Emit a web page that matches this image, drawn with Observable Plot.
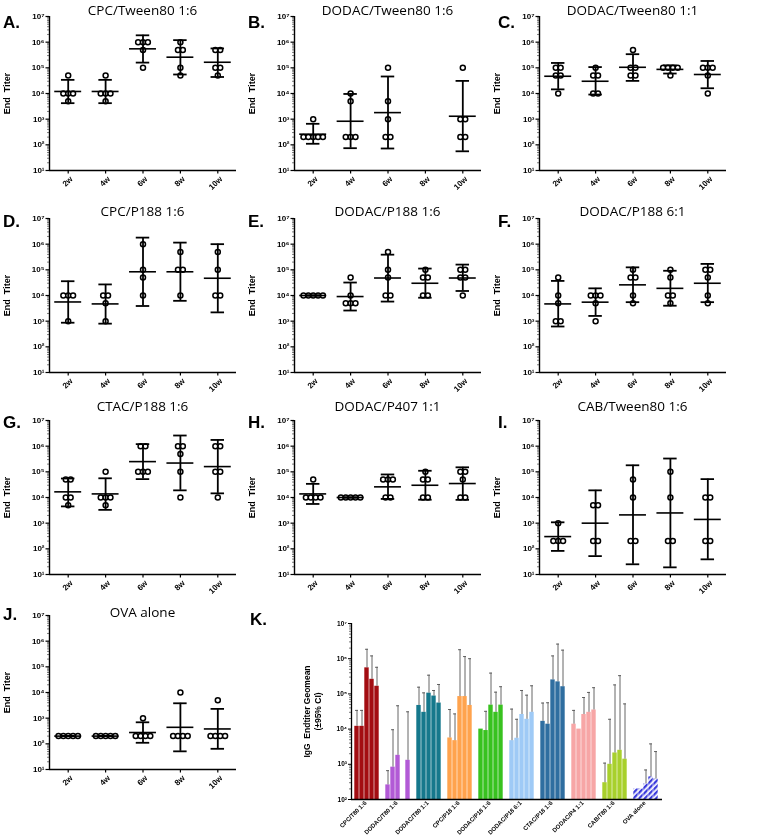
<!DOCTYPE html>
<html><head><meta charset="utf-8">
<script src="https://cdn.jsdelivr.net/npm/d3@7"></script>
<script src="https://cdn.jsdelivr.net/npm/@observablehq/plot@0.6"></script>
<style>
body{margin:0;background:#fff;}
#root{position:relative;width:760px;height:840px;overflow:hidden;background:#fff;}
#root > svg{position:absolute;will-change:transform;}
</style></head><body>
<svg width="0" height="0" style="position:absolute"><defs>
<pattern id="hatch" patternUnits="userSpaceOnUse" width="4" height="4" patternTransform="rotate(45)">
<rect width="4" height="4" fill="#ffffff"/><rect width="2.3" height="4" fill="#3b3bdc"/></pattern></defs></svg>
<div id="root"></div>
<script>
// ---------- data ----------
const WEEKS = ["2w", "4w", "6w", "8w", "10w"];
const TITLES = ["CPC/Tween80 1:6", "DODAC/Tween80 1:6", "DODAC/Tween80 1:1", "CPC/P188 1:6", "DODAC/P188 1:6",
  "DODAC/P188 6:1", "CTAC/P188 1:6", "DODAC/P407 1:1", "CAB/Tween80 1:6", "OVA alone"];
const LETTERS = ["A.", "B.", "C.", "D.", "E.", "F.", "G.", "H.", "I.", "J."];

const ptsA = [[5e4,1e4,1e4,1e4,5e3],[5e4,1e4,1e4,1e4,5e3],[1e6,1e6,1e6,5e5,1e5],[1e6,5e5,5e5,1e5,5e4],[5e5,5e5,1e5,1e5,5e4]];
const gmA = [1.2e4, 1.2e4, 5.5e5, 2.6e5, 1.65e5];
const loA = [4.2e3, 4.2e3, 1.6e5, 5.5e4, 4.4e4];
const hiA = [3.4e4, 3.4e4, 1.85e6, 1.2e6, 5.7e5];

const ptsB = [[1e3,2e2,2e2,2e2,2e2,2e2],[1e4,5e3,2e2,2e2,2e2],[1e5,5e3,1e3,2e2,2e2],null,[1e5,1e3,1e3,2e2,2e2]];
const gmB = [2.6e2, 8.3e2, 1.8e3, null, 1.3e3];
const loB = [1.1e2, 74, 72, null, 56];
const hiB = [6.6e2, 9.6e3, 4.6e4, null, 3.1e4];

const ptsC = [[1e5,1e5,5e4,5e4,1e4],[1e5,5e4,5e4,1e4,1e4],[5e5,1e5,1e5,5e4,5e4],[1e5,1e5,1e5,1e5,5e4],[1e5,1e5,1e5,5e4,1e4]];
const gmC = [4.7e4, 3.0e4, 1.05e5, 8.7e4, 5.5e4];
const loC = [1.45e4, 9.1e3, 3.1e4, 6.0e4, 1.6e4];
const hiC = [1.55e5, 1.07e5, 3.4e5, 1.25e5, 1.85e5];

const ptsD = [[1e4,1e4,1e4,1e3],[1e4,1e4,5e3,1e3],[1e6,1e5,5e4,1e4],[5e5,1e5,1e5,1e4],[5e5,1e5,1e4,1e4]];
const gmD = [5.6e3, 4.7e3, 8.4e4, 8.4e4, 4.7e4];
const loD = [8.7e2, 8.0e2, 3.9e3, 6.2e3, 2.2e3];
const hiD = [3.6e4, 2.7e4, 1.8e6, 1.15e6, 1.0e6];

const ptsE = [[1e4,1e4,1e4,1e4,1e4],[5e4,1e4,5e3,5e3,5e3],[5e5,1e5,5e4,1e4,1e4],[1e5,5e4,5e4,1e4,1e4],[1e5,1e5,5e4,5e4,1e4]];
const gmE = [1e4, 9.1e3, 4.8e4, 3.0e4, 4.8e4];
const loE = [1e4, 2.6e3, 5.8e3, 8.2e3, 1.5e4];
const hiE = [1e4, 3.2e4, 3.9e5, 1.12e5, 1.6e5];

const ptsF = [[5e4,1e4,5e3,1e3,1e3],[1e4,1e4,1e4,5e3,1e3],[1e5,5e4,5e4,1e4,5e3],[1e5,5e4,1e4,1e4,5e3],[1e5,1e5,5e4,1e4,5e3]];
const gmF = [4.7e3, 5.5e3, 2.6e4, 1.9e4, 3.0e4];
const loF = [6.2e2, 1.6e3, 5.5e3, 4.0e3, 5.5e3];
const hiF = [3.7e4, 1.9e4, 1.25e5, 9.2e4, 1.7e5];

const ptsG = [[5e4,5e4,1e4,1e4,5e3],[1e5,1e4,1e4,1e4,5e3],[1e6,1e6,1e5,1e5,1e5],[1e6,1e6,5e5,1e5,1e4],[1e6,1e6,1e5,1e5,1e4]];
const gmG = [1.66e4, 1.38e4, 2.5e5, 2.2e5, 1.6e5];
const loG = [4.5e3, 3.3e3, 5.2e4, 1.9e4, 1.45e4];
const hiG = [5.5e4, 5.6e4, 1.2e6, 2.6e6, 1.75e6];

const ptsH = [[5e4,1e4,1e4,1e4,1e4],[1e4,1e4,1e4,1e4,1e4],[5e4,5e4,5e4,1e4,1e4],[1e5,5e4,5e4,1e4,1e4],[1e5,1e5,5e4,1e4,1e4]];
const gmH = [1.38e4, 1e4, 2.6e4, 3.0e4, 3.5e4];
const loH = [5.6e3, 1e4, 8.8e3, 8.2e3, 8.1e3];
const hiH = [3.4e4, 1e4, 7.9e4, 1.1e5, 1.5e5];

const ptsI = [[1e3,2e2,2e2,2e2],[5e3,5e3,2e2,2e2],[5e4,1e4,2e2,2e2],[1e5,1e4,2e2,2e2],[1e4,1e4,2e2,2e2]];
const gmI = [3.0e2, 1.0e3, 2.1e3, 2.5e3, 1.4e3];
const loI = [83, 52, 25, 19, 39];
const hiI = [1.08e3, 1.9e4, 1.8e5, 3.3e5, 5.2e4];

const ptsJ = [[2e2,2e2,2e2,2e2,2e2],[2e2,2e2,2e2,2e2,2e2],[1e3,2e2,2e2,2e2,2e2],[1e4,2e2,2e2,2e2,2e2],[5e3,2e2,2e2,2e2,2e2]];
const gmJ = [2e2, 2e2, 2.76e2, 4.4e2, 3.8e2];
const loJ = [2e2, 2e2, 1.1e2, 51, 64];
const hiJ = [2e2, 2e2, 6.9e2, 3.8e3, 2.3e3];

const K_LABELS = ["CPC/T80 1:6", "DODAC/T80 1:6", "DODAC/T80 1:1", "CPC/P18 1:6", "DODAC/P18 1:6",
  "DODAC/P18 6:1", "CTAC/P18 1:6", "DODAC/P4 1:1", "CAB/T80 1:6", "OVA alone"];
const K_COLORS = ["#a30d12", "#b25ad6", "#15788c", "#ffa34d", "#38c21f", "#9fcaf6", "#2f6ea0", "#f7a6a6", "#a8d02c", "url(#hatch)"];
const MAJOR_TICKS = [1e1, 1e2, 1e3, 1e4, 1e5, 1e6, 1e7];

// ---------- layout helpers ----------
const PANELS = [
  [ptsA, gmA, loA, hiA], [ptsB, gmB, loB, hiB], [ptsC, gmC, loC, hiC],
  [ptsD, gmD, loD, hiD], [ptsE, gmE, loE, hiE], [ptsF, gmF, loF, hiF],
  [ptsG, gmG, loG, hiG], [ptsH, gmH, loH, hiH], [ptsI, gmI, loI, hiI],
  [ptsJ, gmJ, loJ, hiJ]
];
const COL_LEFT = [0, 245, 490];
const ROW_TOP = [16, 218, 420, 615];
const TITLE_Y = [28.5, 28, 21, 32];
const LETTER_Y = [42, 39, 38, 35];
const LETTER_X = [3, 3, 8];
const SUP = ["\u2070", "\u00b9", "\u00b2", "\u00b3", "\u2074", "\u2075", "\u2076", "\u2077"];
const fmtPow = d => "10" + SUP[Math.round(Math.log10(d))];
const minorTicks = (lo, hi) => { const t = []; for (let e = lo; e < hi; e++) for (let m = 2; m < 10; m++) t.push(m * 10 ** e); return t; };
const FONT = "'Liberation Sans', Arial, sans-serif";
const SPREAD = 0.13, MEANW = 0.36, CAPW = 0.18;

function dotRows(pts) {
  const rows = [];
  pts.forEach((vals, i) => {
    if (!vals) return;
    for (const [v, arr] of d3.group(vals, v => v)) {
      arr.forEach((_, k) => rows.push({x: i + (k - (arr.length - 1) / 2) * SPREAD, y: v}));
    }
  });
  return rows;
}

const root = document.getElementById("root");

function place(svg, left, top) {
  svg.style.left = left + "px";
  svg.style.top = top + "px";
  root.appendChild(svg);
}

PANELS.forEach(([pts, gm, lo, hi], p) => {
  const r = Math.floor(p / 3), c = p % 3;
  const sum = gm.map((g, i) => g == null ? null : {i, gm: g, lo: lo[i], hi: hi[i]}).filter(Boolean);
  const svg = Plot.plot({
    width: 250, height: 214, marginLeft: 49, marginRight: 14, marginTop: 30, marginBottom: 30,
    style: {background: "transparent", overflow: "visible", fontFamily: FONT, color: "#000"},
    x: {type: "linear", domain: [-0.5, 4.5], label: null},
    y: {type: "log", domain: [10, 1e7], label: null},
    marks: [
      Plot.axisY({ticks: minorTicks(1, 7), tickSize: 2, tickFormat: () => "", label: null, stroke: "#444", strokeWidth: 0.7}),
      Plot.axisY({ticks: MAJOR_TICKS, tickSize: 3.5, tickPadding: 1.5, tickFormat: fmtPow, label: null, fontSize: 8, fontWeight: "bold", strokeWidth: 1.2}),
      Plot.axisX({ticks: [0, 1, 2, 3, 4], tickSize: 3.5, tickFormat: () => "", label: null, strokeWidth: 1.2}),
      Plot.text(WEEKS, {x: (d, i) => i, text: d => d, frameAnchor: "bottom", rotate: -45, textAnchor: "end", dx: 5, dy: 9, fontSize: 8, fontWeight: "bold", fill: "#000"}),
      Plot.text(["End  Titer"], {text: d => d, frameAnchor: "left", rotate: -90, textAnchor: "middle", dx: -42, fontSize: 9, fontWeight: "bold", fill: "#000"}),
      Plot.ruleX([-0.5], {strokeWidth: 1.4}),
      Plot.ruleY([10], {strokeWidth: 1.4}),
      Plot.dot(dotRows(pts), {x: "x", y: "y", r: 2.5, stroke: "#000", strokeWidth: 1.5, fill: "#fff"}),
      Plot.ruleX(sum, {x: "i", y1: "lo", y2: "hi", strokeWidth: 1.8}),
      Plot.ruleY(sum, {y: "lo", x1: d => d.i - CAPW, x2: d => d.i + CAPW, strokeWidth: 1.8}),
      Plot.ruleY(sum, {y: "hi", x1: d => d.i - CAPW, x2: d => d.i + CAPW, strokeWidth: 1.8}),
      Plot.ruleY(sum, {y: "gm", x1: d => d.i - MEANW, x2: d => d.i + MEANW, strokeWidth: 1.6})
    ]
  });
  const s = d3.select(svg);
  s.append("text").attr("x", 49 + 187 / 2).attr("y", TITLE_Y[r]).attr("text-anchor", "middle")
    .attr("font-family", "'Open Sans', sans-serif").attr("font-size", 13.5).attr("fill", "#000").text(TITLES[p]);
  s.append("text").attr("x", LETTER_X[c]).attr("y", LETTER_Y[r]).attr("text-anchor", "start")
    .attr("font-family", FONT).attr("font-weight", "bold").attr("font-size", 17).attr("fill", "#000").text(LETTERS[p]);
  place(svg, COL_LEFT[c], ROW_TOP[r] - 30);
});

// ---------- panel K ----------
const PITCH = 6.2;
const kRows = [];
PANELS.forEach(([pts, gm, lo, hi], g) => {
  gm.forEach((v, b) => { if (v != null) kRows.push({x: g * PITCH + b, gm: v, hi: hi[b], fill: K_COLORS[g]}); });
});
const kErr = kRows.filter(d => d.hi > d.gm * 1.001);
const kSvg = Plot.plot({
  width: 520, height: 255, marginLeft: 111, marginRight: 98, marginTop: 38, marginBottom: 41,
  style: {background: "transparent", overflow: "visible", fontFamily: FONT, color: "#000"},
  x: {type: "linear", domain: [-0.6, 9 * PITCH + 5 + 0.8], label: null, axis: null},
  y: {type: "log", domain: [100, 1e7], label: null},
  color: {type: "identity"},
  marks: [
    Plot.axisY({ticks: minorTicks(2, 7), tickSize: 2, tickFormat: () => "", label: null, stroke: "#444", strokeWidth: 0.7}),
    Plot.axisY({ticks: MAJOR_TICKS.slice(1), tickSize: 3, tickPadding: 1.5, tickFormat: fmtPow, label: null, fontSize: 6.5, fontWeight: "bold", strokeWidth: 1}),
    Plot.rect(kRows, {x1: d => d.x, x2: d => d.x + 1, y1: 100, y2: "gm", fill: "fill", insetLeft: 0.3, insetRight: 0.3}),
    Plot.ruleX(kErr, {x: d => d.x + 0.5, y1: "gm", y2: "hi", stroke: "#555", strokeWidth: 0.9}),
    Plot.ruleY(kErr, {y: "hi", x1: d => d.x + 0.2, x2: d => d.x + 0.8, stroke: "#555", strokeWidth: 0.9}),
    Plot.ruleX([-0.6], {strokeWidth: 1.3}),
    Plot.ruleY([100], {strokeWidth: 1.3}),
    Plot.text(K_LABELS, {x: (d, i) => i * PITCH + 2.5, text: d => d, frameAnchor: "bottom", rotate: -45, textAnchor: "end", dy: 4, fontSize: 6, fontWeight: "bold", fill: "#000"}),
    Plot.text(["IgG  Endtiter Geomean"], {text: d => d, frameAnchor: "left", rotate: -90, textAnchor: "middle", dx: -44, fontSize: 8.5, fontWeight: "bold", fill: "#000"}),
    Plot.text(["(\u00b195% CI)"], {text: d => d, frameAnchor: "left", rotate: -90, textAnchor: "middle", dx: -33, fontSize: 8.5, fontWeight: "bold", fill: "#000"})
  ]
});
d3.select(kSvg).append("text").attr("x", 10).attr("y", 40).attr("text-anchor", "start")
  .attr("font-family", FONT).attr("font-weight", "bold").attr("font-size", 17).attr("fill", "#000").text("K.");
place(kSvg, 240, 585);
</script>
</body></html>
